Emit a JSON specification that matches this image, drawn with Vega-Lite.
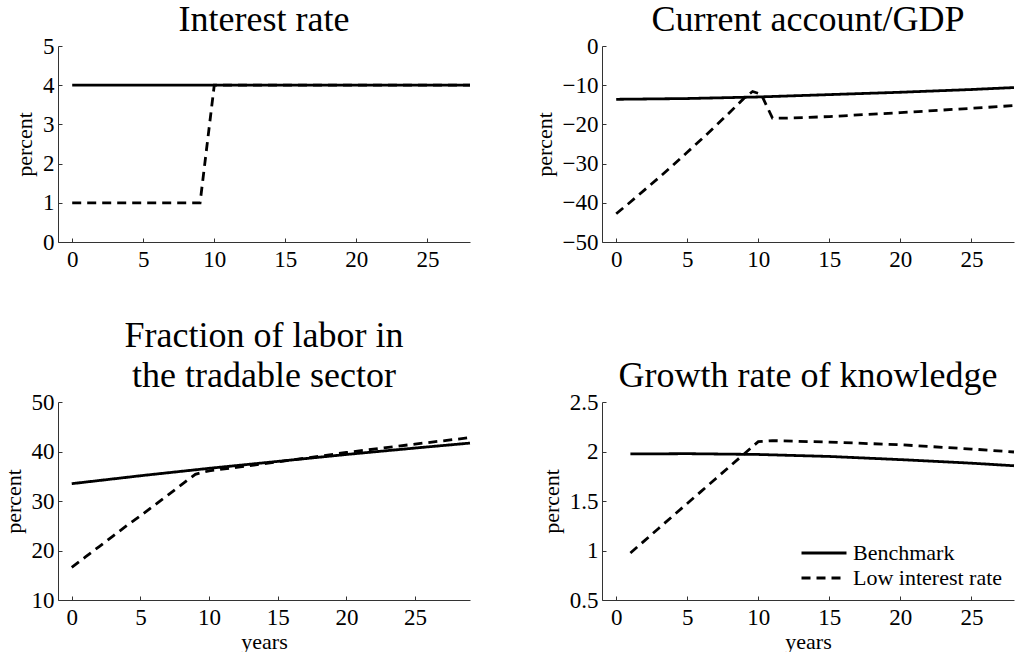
{
  "$schema": "https://vega.github.io/schema/vega-lite/v6.json",
  "padding": {"left": 2, "top": 2, "right": 0, "bottom": 0},
  "background": "white",
  "config": {
    "view": {"stroke": null},
    "font": "Liberation Serif",
    "title": {"font": "Liberation Serif", "fontSize": 36, "fontWeight": "normal", "color": "black", "offset": -4},
    "axis": {
      "labelFont": "Liberation Serif", "labelFontSize": 23, "labelColor": "black",
      "titleFont": "Liberation Serif", "titleFontSize": 22, "titleFontWeight": "normal", "titleColor": "black",
      "domainColor": "#333", "tickColor": "#333", "domainWidth": 1, "tickWidth": 1,
      "grid": false, "tickSize": -4, "labelPadding": 8, "titlePadding": 6
    },
    "axisX": {"labelPadding": 10},
    "legend": {
      "labelFont": "Liberation Serif", "labelFontSize": 22, "labelColor": "black",
      "symbolType": "M-2,0L2,0", "symbolSize": 506, "symbolStrokeWidth": 3, "symbolStrokeColor": "black",
      "labelOffset": 16, "rowPadding": 1, "padding": 0
    },
    "line": {"color": "black", "strokeWidth": 2.8}
  },
  "data": {"values": [
    {"panel": "ir", "scenario": "Benchmark", "year": 0, "value": 4},
    {"panel": "ir", "scenario": "Benchmark", "year": 10, "value": 4},
    {"panel": "ir", "scenario": "Benchmark", "year": 20, "value": 4},
    {"panel": "ir", "scenario": "Benchmark", "year": 28, "value": 4},
    {"panel": "ir", "scenario": "Low interest rate", "year": 0, "value": 1},
    {"panel": "ir", "scenario": "Low interest rate", "year": 5, "value": 1},
    {"panel": "ir", "scenario": "Low interest rate", "year": 9, "value": 1},
    {"panel": "ir", "scenario": "Low interest rate", "year": 10, "value": 4},
    {"panel": "ir", "scenario": "Low interest rate", "year": 20, "value": 4},
    {"panel": "ir", "scenario": "Low interest rate", "year": 28, "value": 4},

    {"panel": "ca", "scenario": "Benchmark", "year": 0, "value": -13.6},
    {"panel": "ca", "scenario": "Benchmark", "year": 5, "value": -13.4},
    {"panel": "ca", "scenario": "Benchmark", "year": 10, "value": -13.0},
    {"panel": "ca", "scenario": "Benchmark", "year": 15, "value": -12.4},
    {"panel": "ca", "scenario": "Benchmark", "year": 20, "value": -11.8},
    {"panel": "ca", "scenario": "Benchmark", "year": 25, "value": -11.1},
    {"panel": "ca", "scenario": "Benchmark", "year": 28, "value": -10.6},
    {"panel": "ca", "scenario": "Low interest rate", "year": 0, "value": -42.8},
    {"panel": "ca", "scenario": "Low interest rate", "year": 1, "value": -39.8},
    {"panel": "ca", "scenario": "Low interest rate", "year": 2, "value": -36.7},
    {"panel": "ca", "scenario": "Low interest rate", "year": 3, "value": -33.6},
    {"panel": "ca", "scenario": "Low interest rate", "year": 4, "value": -30.4},
    {"panel": "ca", "scenario": "Low interest rate", "year": 5, "value": -27.1},
    {"panel": "ca", "scenario": "Low interest rate", "year": 6, "value": -23.8},
    {"panel": "ca", "scenario": "Low interest rate", "year": 7, "value": -20.4},
    {"panel": "ca", "scenario": "Low interest rate", "year": 8, "value": -16.9},
    {"panel": "ca", "scenario": "Low interest rate", "year": 9, "value": -13.3},
    {"panel": "ca", "scenario": "Low interest rate", "year": 9.6, "value": -11.6},
    {"panel": "ca", "scenario": "Low interest rate", "year": 10.2, "value": -12.3},
    {"panel": "ca", "scenario": "Low interest rate", "year": 11, "value": -18.4},
    {"panel": "ca", "scenario": "Low interest rate", "year": 12, "value": -18.4},
    {"panel": "ca", "scenario": "Low interest rate", "year": 15, "value": -18.0},
    {"panel": "ca", "scenario": "Low interest rate", "year": 20, "value": -17.0},
    {"panel": "ca", "scenario": "Low interest rate", "year": 25, "value": -15.9},
    {"panel": "ca", "scenario": "Low interest rate", "year": 28, "value": -15.2},

    {"panel": "lab", "scenario": "Benchmark", "year": 0, "value": 33.5},
    {"panel": "lab", "scenario": "Benchmark", "year": 5, "value": 35.1},
    {"panel": "lab", "scenario": "Benchmark", "year": 10, "value": 36.6},
    {"panel": "lab", "scenario": "Benchmark", "year": 15, "value": 38.0},
    {"panel": "lab", "scenario": "Benchmark", "year": 20, "value": 39.4},
    {"panel": "lab", "scenario": "Benchmark", "year": 25, "value": 40.7},
    {"panel": "lab", "scenario": "Benchmark", "year": 29, "value": 41.7},
    {"panel": "lab", "scenario": "Low interest rate", "year": 0, "value": 16.6},
    {"panel": "lab", "scenario": "Low interest rate", "year": 1, "value": 18.7},
    {"panel": "lab", "scenario": "Low interest rate", "year": 2, "value": 20.8},
    {"panel": "lab", "scenario": "Low interest rate", "year": 3, "value": 22.9},
    {"panel": "lab", "scenario": "Low interest rate", "year": 4, "value": 25.0},
    {"panel": "lab", "scenario": "Low interest rate", "year": 5, "value": 27.0},
    {"panel": "lab", "scenario": "Low interest rate", "year": 6, "value": 29.1},
    {"panel": "lab", "scenario": "Low interest rate", "year": 7, "value": 31.2},
    {"panel": "lab", "scenario": "Low interest rate", "year": 8, "value": 33.3},
    {"panel": "lab", "scenario": "Low interest rate", "year": 9, "value": 35.4},
    {"panel": "lab", "scenario": "Low interest rate", "year": 10, "value": 36.1},
    {"panel": "lab", "scenario": "Low interest rate", "year": 12, "value": 36.8},
    {"panel": "lab", "scenario": "Low interest rate", "year": 15, "value": 37.9},
    {"panel": "lab", "scenario": "Low interest rate", "year": 20, "value": 39.8},
    {"panel": "lab", "scenario": "Low interest rate", "year": 25, "value": 41.5},
    {"panel": "lab", "scenario": "Low interest rate", "year": 29, "value": 42.8},

    {"panel": "gr", "scenario": "Benchmark", "year": 1, "value": 1.975},
    {"panel": "gr", "scenario": "Benchmark", "year": 5, "value": 1.978},
    {"panel": "gr", "scenario": "Benchmark", "year": 10, "value": 1.97},
    {"panel": "gr", "scenario": "Benchmark", "year": 15, "value": 1.95},
    {"panel": "gr", "scenario": "Benchmark", "year": 20, "value": 1.918},
    {"panel": "gr", "scenario": "Benchmark", "year": 25, "value": 1.882},
    {"panel": "gr", "scenario": "Benchmark", "year": 28, "value": 1.856},
    {"panel": "gr", "scenario": "Low interest rate", "year": 1, "value": 0.975},
    {"panel": "gr", "scenario": "Low interest rate", "year": 2, "value": 1.1},
    {"panel": "gr", "scenario": "Low interest rate", "year": 3, "value": 1.225},
    {"panel": "gr", "scenario": "Low interest rate", "year": 4, "value": 1.35},
    {"panel": "gr", "scenario": "Low interest rate", "year": 5, "value": 1.475},
    {"panel": "gr", "scenario": "Low interest rate", "year": 6, "value": 1.6},
    {"panel": "gr", "scenario": "Low interest rate", "year": 7, "value": 1.725},
    {"panel": "gr", "scenario": "Low interest rate", "year": 8, "value": 1.85},
    {"panel": "gr", "scenario": "Low interest rate", "year": 9, "value": 1.975},
    {"panel": "gr", "scenario": "Low interest rate", "year": 10, "value": 2.1},
    {"panel": "gr", "scenario": "Low interest rate", "year": 11, "value": 2.11},
    {"panel": "gr", "scenario": "Low interest rate", "year": 15, "value": 2.095},
    {"panel": "gr", "scenario": "Low interest rate", "year": 20, "value": 2.068},
    {"panel": "gr", "scenario": "Low interest rate", "year": 25, "value": 2.025},
    {"panel": "gr", "scenario": "Low interest rate", "year": 28, "value": 1.995}
  ]},
  "columns": 2,
  "spacing": {"column": 57, "row": 47},
  "resolve": {
    "scale": {"x": "independent", "y": "independent", "strokeDash": "independent"},
    "legend": {"strokeDash": "independent"}
  },
  "concat": [
    {
      "title": "Interest rate",
      "width": 412, "height": 196,
      "transform": [{"filter": "datum.panel === 'ir'"}],
      "mark": {"type": "line"},
      "encoding": {
        "x": {"field": "year", "type": "quantitative", "scale": {"domain": [-1, 28], "nice": false, "zero": false}, "axis": {"values": [0, 5, 10, 15, 20, 25], "title": null}},
        "y": {"field": "value", "type": "quantitative", "scale": {"domain": [0, 5], "nice": false}, "axis": {"values": [0, 1, 2, 3, 4, 5], "title": "percent"}},
        "strokeDash": {"field": "scenario", "type": "nominal", "scale": {"domain": ["Benchmark", "Low interest rate"], "range": [[1, 0], [9, 6]]}, "legend": null}
      }
    },
    {
      "title": "Current account/GDP",
      "width": 412, "height": 196,
      "transform": [{"filter": "datum.panel === 'ca'"}],
      "mark": {"type": "line"},
      "encoding": {
        "x": {"field": "year", "type": "quantitative", "scale": {"domain": [-1, 28], "nice": false, "zero": false}, "axis": {"values": [0, 5, 10, 15, 20, 25], "title": null}},
        "y": {"field": "value", "type": "quantitative", "scale": {"domain": [-50, 0], "nice": false}, "axis": {"values": [-50, -40, -30, -20, -10, 0], "title": "percent"}},
        "strokeDash": {"field": "scenario", "type": "nominal", "scale": {"domain": ["Benchmark", "Low interest rate"], "range": [[1, 0], [9, 6]]}, "legend": null}
      }
    },
    {
      "title": {"text": ["Fraction of labor in", " the tradable sector"], "lineHeight": 40},
      "width": 412, "height": 198,
      "transform": [{"filter": "datum.panel === 'lab'"}],
      "mark": {"type": "line"},
      "encoding": {
        "x": {"field": "year", "type": "quantitative", "scale": {"domain": [-1, 29], "nice": false, "zero": false}, "axis": {"values": [0, 5, 10, 15, 20, 25], "title": "years", "titlePadding": 2}},
        "y": {"field": "value", "type": "quantitative", "scale": {"domain": [10, 50], "nice": false, "zero": false}, "axis": {"values": [10, 20, 30, 40, 50], "title": "percent"}},
        "strokeDash": {"field": "scenario", "type": "nominal", "scale": {"domain": ["Benchmark", "Low interest rate"], "range": [[1, 0], [9, 6]]}, "legend": null}
      }
    },
    {
      "title": "Growth rate of knowledge",
      "width": 412, "height": 198,
      "transform": [{"filter": "datum.panel === 'gr'"}],
      "mark": {"type": "line"},
      "encoding": {
        "x": {"field": "year", "type": "quantitative", "scale": {"domain": [-1, 28], "nice": false, "zero": false}, "axis": {"values": [0, 5, 10, 15, 20, 25], "title": "years", "titlePadding": 2}},
        "y": {"field": "value", "type": "quantitative", "scale": {"domain": [0.5, 2.5], "nice": false, "zero": false}, "axis": {"values": [0.5, 1, 1.5, 2, 2.5], "format": "~g", "title": "percent"}},
        "strokeDash": {"field": "scenario", "type": "nominal", "scale": {"domain": ["Benchmark", "Low interest rate"], "range": [[1, 0], [9, 6]]}, "legend": {"title": null, "orient": "bottom-right", "offset": 11}}
      }
    }
  ]
}
